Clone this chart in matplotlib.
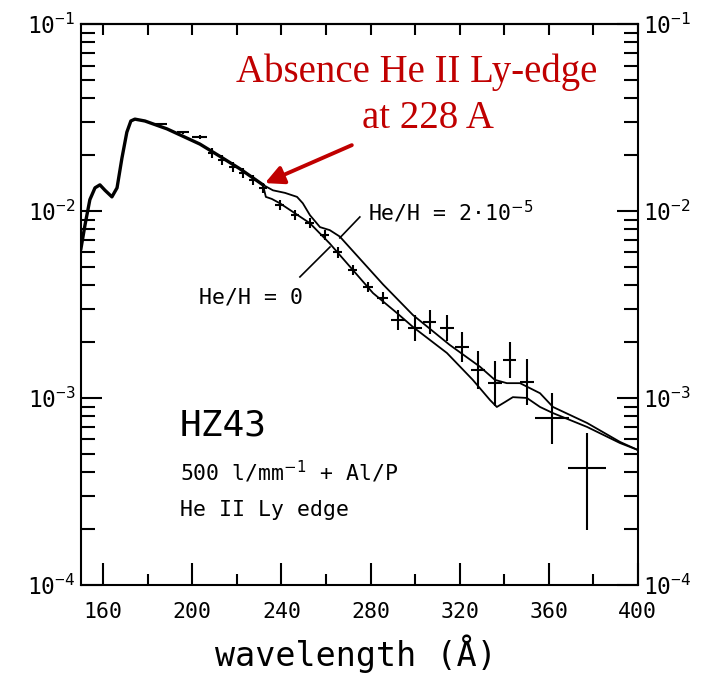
import numpy as np
import matplotlib
matplotlib.use("Agg")
import matplotlib.pyplot as plt

# -------------------------
# Data (wavelength in A, flux)
# -------------------------
# model curve, part common to both models
wl_common = [150, 151.8, 154.0, 156.3, 158.5, 160.8, 163.9, 166.2, 168.4, 170.6,
             172.4, 174.2, 178.7, 188.6, 203.4, 212.4, 221.4, 231.7]
flux_common = [6.3e-3, 8.4e-3, 1.15e-2, 1.33e-2, 1.38e-2, 1.29e-2, 1.19e-2, 1.33e-2,
               1.92e-2, 2.64e-2, 3.03e-2, 3.10e-2, 3.03e-2, 2.75e-2, 2.28e-2,
               1.96e-2, 1.68e-2, 1.38e-2]

# He/H = 2e-5 model
wl_he2 = [231.7, 236.2, 241.6, 247.0, 249.6, 252.8, 257.3, 261.7, 266.2, 285.6,
          299.0, 315.6, 329.1, 335.8, 341.2, 347.1, 356.1, 361.9, 377.2, 392.0, 400]
flux_he2 = [1.38e-2, 1.29e-2, 1.25e-2, 1.19e-2, 1.10e-2, 9.5e-3, 8.2e-3, 7.9e-3,
            7.3e-3, 4.05e-3, 2.78e-3, 1.92e-3, 1.47e-3, 1.25e-3, 1.20e-3, 1.20e-3,
            1.06e-3, 8.95e-4, 7.35e-4, 5.82e-4, 5.27e-4]

# He/H = 0 model
wl_he0 = [231.7, 233.0, 235.7, 239.3, 252.8, 261.7, 281.1, 291.8, 299.0, 314.3,
          325.9, 333.6, 336.7, 340.3, 343.9, 350.2, 356.1, 361.9, 377.2, 392.0, 400]
flux_he0 = [1.38e-2, 1.19e-2, 1.16e-2, 1.10e-2, 8.6e-3, 6.7e-3, 3.64e-3, 2.85e-3,
            2.40e-3, 1.74e-3, 1.25e-3, 9.76e-4, 8.95e-4, 9.5e-4, 1.01e-3, 1.0e-3,
            8.95e-4, 8.3e-4, 7.0e-4, 5.74e-4, 5.27e-4]

# measured points with error bars
wl_obs = [185.9, 195.8, 203.4, 208.8, 213.3, 218.2, 222.7, 227.2, 231.7, 239.3,
          246.1, 252.8, 259.5, 265.3, 272.1, 278.8, 285.5, 292.3, 299.9, 306.6,
          314.3, 321.0, 328.2, 335.8, 342.5, 350.2, 361.4, 377.1]
wl_err = [2.7, 2.9, 3.4, 1.8, 1.8, 1.8, 1.8, 1.8, 1.8, 2.0,
          2.0, 2.0, 2.0, 2.0, 2.0, 2.2, 2.5, 3.0, 3.0, 3.0,
          3.0, 3.0, 3.0, 3.0, 3.0, 3.0, 7.6, 8.5]
flux_obs = [2.92e-2, 2.64e-2, 2.49e-2, 2.04e-2, 1.87e-2, 1.72e-2, 1.60e-2, 1.47e-2,
            1.33e-2, 1.08e-2, 9.5e-3, 8.6e-3, 7.4e-3, 6.0e-3, 4.83e-3, 3.92e-3,
            3.43e-3, 2.61e-3, 2.37e-3, 2.55e-3, 2.37e-3, 1.87e-3, 1.41e-3, 1.20e-3,
            1.60e-3, 1.22e-3, 7.8e-4, 4.23e-4]
flux_lo = [2.87e-2, 2.59e-2, 2.44e-2, 1.92e-2, 1.76e-2, 1.62e-2, 1.50e-2, 1.38e-2,
           1.25e-2, 1.01e-2, 8.9e-3, 8.1e-3, 7.0e-3, 5.6e-3, 4.54e-3, 3.68e-3,
           3.20e-3, 2.31e-3, 2.02e-3, 2.20e-3, 2.02e-3, 1.56e-3, 1.12e-3, 9.1e-4,
           1.28e-3, 9.2e-4, 5.7e-4, 1.97e-4]
flux_hi = [2.97e-2, 2.69e-2, 2.54e-2, 2.17e-2, 1.99e-2, 1.83e-2, 1.70e-2, 1.56e-2,
           1.42e-2, 1.15e-2, 1.01e-2, 9.2e-3, 7.9e-3, 6.4e-3, 5.14e-3, 4.17e-3,
           3.68e-3, 2.95e-3, 2.78e-3, 2.96e-3, 2.78e-3, 2.25e-3, 1.78e-3, 1.58e-3,
           1.99e-3, 1.62e-3, 1.06e-3, 6.5e-4]

x_ticks = [160, 200, 240, 280, 320, 360, 400]

plt.rcParams['font.family'] = ['DejaVu Sans Mono', 'DejaVu Sans']
plt.rcParams['axes.linewidth'] = 1.5

fig = plt.figure(figsize=(7.04, 6.77), dpi=100)
ax = fig.add_axes([0.115, 0.136, 0.791, 0.8285])

# model curves
ax.plot(wl_common, flux_common, color='black', lw=2.4, solid_joinstyle='round')
ax.plot(wl_he2, flux_he2, color='black', lw=1.3)
ax.plot(wl_he0, flux_he0, color='black', lw=1.3)

# observed points
flux_obs = np.array(flux_obs)
yerr = [flux_obs - np.array(flux_lo), np.array(flux_hi) - flux_obs]
ax.errorbar(wl_obs, flux_obs, xerr=wl_err, yerr=yerr, fmt='none',
            ecolor='black', elinewidth=1.5, capsize=0)

ax.set_yscale('log')
ax.set_xlim(150, 400)
ax.set_ylim(1e-4, 1e-1)
ax.set_xticks(x_ticks)
ax.set_xticks(np.arange(180, 400, 40), minor=True)

ax.tick_params(axis='x', which='major', direction='in', length=16, width=1.5,
               labelsize=15.5, pad=12, top=False)
ax.tick_params(axis='x', which='minor', direction='in', length=8, width=1.5, top=False)
ax.tick_params(axis='y', which='major', direction='in', length=15, width=1.5,
               labelsize=16.5, right=True, labelright=True, pad=4)
ax.tick_params(axis='y', which='minor', direction='in', length=10, width=1.5, right=True)

# top ticks: all the same length
top = ax.secondary_xaxis('top')
top.set_xticks(np.arange(160, 401, 20))
top.tick_params(direction='in', length=8, width=1.5, labeltop=False)

# curve labels and leader line
ax.text(0.212, 0.513, "He/H = 0", transform=ax.transAxes, fontsize=15.5,
        va='center', ha='left')
ax.text(0.515, 0.665, "He/H = 2·10$^{-5}$", transform=ax.transAxes, fontsize=15.5,
        va='center', ha='left')
ax.plot([275.2, 266.2], [9.29e-3, 7.18e-3], color='black', lw=1.2)
ax.plot([261.8, 248.3], [6.42e-3, 4.44e-3], color='black', lw=1.2)

ax.text(0.178, 0.285, "HZ43", transform=ax.transAxes, fontsize=26,
        va='center', ha='left')
ax.text(0.178, 0.201, "500 l/mm$^{-1}$ + Al/P", transform=ax.transAxes,
        fontsize=15.5, va='center', ha='left')
ax.text(0.178, 0.134, "He II Ly edge", transform=ax.transAxes, fontsize=15.5,
        va='center', ha='left')

# red annotation
red = '#c00000'
fig.text(417 / 704, 1 - 72 / 677, "Absence He II Ly-edge", color=red,
         fontsize=28, family='Liberation Serif', ha='center', va='center')
fig.text(428 / 704, 1 - 118 / 677, "at 228 A", color=red,
         fontsize=28, family='Liberation Serif', ha='center', va='center')
ax.annotate("", xy=(232.6, 1.41e-2), xytext=(271.6, 2.25e-2),
            arrowprops=dict(arrowstyle='-|>', color=red, lw=2.8,
                            mutation_scale=28, shrinkA=0, shrinkB=0))

fig.text(356 / 704, 1 - 654 / 677, "wavelength (Å)", fontsize=24,
         ha='center', va='center')

fig.savefig("out.png", dpi=100)
